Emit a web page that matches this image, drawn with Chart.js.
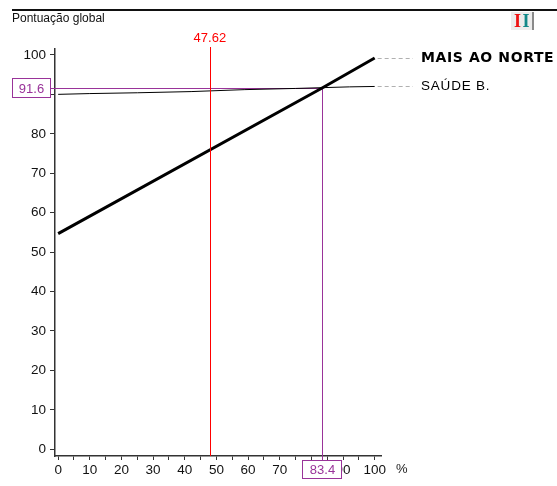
<!DOCTYPE html>
<html lang="pt">
<head>
<meta charset="UTF-8">
<title>Pontuação global</title>
<script src="https://cdn.jsdelivr.net/npm/chart.js"></script>
<style>
    html, body { margin: 0; padding: 0; background: #fff; }
    #wrap { width: 557px; height: 486px; position: relative; }
</style>
</head>
<body>
<div id="wrap"><canvas id="chart" width="557" height="486"></canvas></div>
<script>
// dados
const xTickValues = [0, 5, 10, 15, 20, 25, 30, 35, 40, 45, 50, 55, 60, 65, 70, 75, 80, 85, 90, 95, 100];
const yTickValues = [0, 10, 20, 30, 40, 50, 60, 70, 80, 90, 100];

const maisX = [0, 83.4, 100];
const maisY = [54.7, 91.6, 99.2];

const saudeX = [0, 10, 25, 42, 59, 75, 92, 100];
const saudeY = [90.0, 90.2, 90.4, 90.7, 91.2, 91.5, 91.9, 92.0];

const seriesNames = ['MAIS AO NORTE', 'SAÚDE B.'];

const redMarkX = 47.62;
const crossX = 83.4;
const crossY = 91.6;

const FONT = '"Liberation Sans", Arial, sans-serif';
const PURPLE = '#993399';
const RED = '#ff0000';

function toPoints(xs, ys) {
    return xs.map((x, i) => ({ x: x, y: ys[i] }));
}

// linhas de referência (vermelha e roxa)
const markers = {
    id: 'markers',
    beforeDatasetsDraw(chart) {
        const ctx = chart.ctx;
        const x = chart.scales.x, y = chart.scales.y;
        ctx.save();
        // roxa
        const px = Math.round(x.getPixelForValue(crossX)) + 0.5;
        const py = Math.round(y.getPixelForValue(crossY)) + 0.5;
        ctx.strokeStyle = PURPLE;
        ctx.lineWidth = 1;
        ctx.beginPath();
        ctx.moveTo(51, py);
        ctx.lineTo(px, py);
        ctx.lineTo(px, 461);
        ctx.stroke();
        ctx.restore();
    },
    afterDatasetsDraw(chart) {
        const ctx = chart.ctx;
        const x = chart.scales.x;
        const area = chart.chartArea;
        ctx.save();
        // vermelha
        const rx = Math.round(x.getPixelForValue(redMarkX) + 1) + 0.5;
        ctx.strokeStyle = RED;
        ctx.lineWidth = 1;
        ctx.beginPath();
        ctx.moveTo(rx, 47);
        ctx.lineTo(rx, area.bottom);
        ctx.stroke();
        ctx.restore();
    },
    afterDraw(chart) {
        const ctx = chart.ctx;
        const x = chart.scales.x, y = chart.scales.y;
        ctx.save();
        // linha superior e título
        ctx.fillStyle = '#111';
        ctx.fillRect(12, 9, 545, 2);
        ctx.font = '12px ' + FONT;
        ctx.textBaseline = 'middle';
        ctx.textAlign = 'left';
        ctx.fillText('Pontuação global', 12, 19);

        // ícone II
        ctx.fillStyle = '#ececec';
        ctx.fillRect(511, 12, 22, 18);
        ctx.fillStyle = '#8a8a8a';
        ctx.fillRect(532, 12, 2, 18);
        ctx.font = 'bold 18px "Liberation Serif", serif';
        ctx.textAlign = 'center';
        ctx.fillStyle = '#ee1111';
        ctx.fillText('I', 517.5, 22);
        ctx.fillStyle = '#118888';
        ctx.fillText('I', 526, 22);

        // valor vermelho
        const rx = x.getPixelForValue(redMarkX) + 1;
        ctx.font = '13px ' + FONT;
        ctx.fillStyle = RED;
        ctx.textAlign = 'center';
        ctx.fillText(String(redMarkX), rx, 38);

        // caixas roxas
        const px = x.getPixelForValue(crossX);
        const py = y.getPixelForValue(crossY);
        ctx.lineWidth = 1;
        ctx.strokeStyle = PURPLE;
        ctx.fillStyle = '#fff';
        ctx.fillRect(12, Math.round(py) - 10, 39, 20);
        ctx.strokeRect(12.5, Math.round(py) - 9.5, 38, 19);
        ctx.fillRect(Math.round(px) - 20, 460, 40, 19);
        ctx.strokeRect(Math.round(px) - 19.5, 460.5, 39, 18);
        ctx.fillStyle = PURPLE;
        ctx.fillText(String(crossY), 31.5, Math.round(py) + 1);
        ctx.fillText(String(crossX), Math.round(px) + 0.5, 470);

        // %
        ctx.fillStyle = '#222';
        ctx.textAlign = 'left';
        ctx.fillText('%', 396, 469);

        // rótulos das séries
        chart.data.datasets.forEach((ds, i) => {
            const last = ds.data[ds.data.length - 1];
            const ly = Math.round(y.getPixelForValue(last.y)) + 0.5;
            const lx = x.getPixelForValue(last.x) + 3;
            ctx.strokeStyle = '#b0b0b0';
            ctx.setLineDash([4, 3]);
            ctx.beginPath();
            ctx.moveTo(lx, ly);
            ctx.lineTo(413, ly);
            ctx.stroke();
            ctx.setLineDash([]);
            ctx.fillStyle = '#000';
            if (i === 0) {
                ctx.font = 'bold 14px "DejaVu Sans", sans-serif';
                ctx.letterSpacing = '0.6px';
            } else {
                ctx.font = '13.5px ' + FONT;
                ctx.letterSpacing = '0.8px';
            }
            ctx.fillText(ds.label, 421, ly);
            ctx.letterSpacing = '0px';
        });
        ctx.restore();
    }
};

new Chart(document.getElementById('chart'), {
    type: 'line',
    data: {
        datasets: [
            {
                label: seriesNames[0],
                data: toPoints(maisX, maisY),
                borderColor: '#000',
                borderWidth: 3,
                pointRadius: 0,
                tension: 0
            },
            {
                label: seriesNames[1],
                data: toPoints(saudeX, saudeY),
                borderColor: '#000',
                borderWidth: 1,
                pointRadius: 0,
                tension: 0
            }
        ]
    },
    options: {
        responsive: false,
        animation: false,
        events: [],
        layout: { padding: { left: 0, right: 176, top: 49, bottom: 0 } },
        plugins: {
            legend: { display: false },
            tooltip: { enabled: false },
            title: { display: false }
        },
        scales: {
            x: {
                type: 'linear',
                min: -1,
                max: 102,
                afterBuildTicks: (s) => { s.ticks = xTickValues.map(v => ({ value: v })); },
                afterFit: (s) => { s.height = 30; },
                grid: {
                    drawOnChartArea: false,
                    drawTicks: true,
                    tickLength: 4,
                    color: '#333'
                },
                border: { display: true, color: '#333', width: 1.5 },
                ticks: {
                    autoSkip: false,
                    maxRotation: 0,
                    padding: 2,
                    color: '#111',
                    font: { family: FONT, size: 13.5 },
                    callback: (v) => (v % 10 === 0 ? String(v) : '')
                }
            },
            y: {
                type: 'linear',
                min: -1.7,
                max: 101.5,
                afterBuildTicks: (s) => { s.ticks = yTickValues.map(v => ({ value: v })); },
                afterFit: (s) => { s.width = 55; },
                grid: {
                    drawOnChartArea: false,
                    drawTicks: true,
                    tickLength: 5,
                    color: '#333'
                },
                border: { display: true, color: '#333', width: 1.5 },
                ticks: {
                    autoSkip: false,
                    padding: 4,
                    color: '#111',
                    font: { family: FONT, size: 13.5 },
                    // o rótulo 90 fica escondido pela caixa 91.6
                    callback: (v) => (Math.abs(v - crossY) < 5 ? '' : String(v))
                }
            }
        }
    },
    plugins: [markers]
});
</script>
</body>
</html>
